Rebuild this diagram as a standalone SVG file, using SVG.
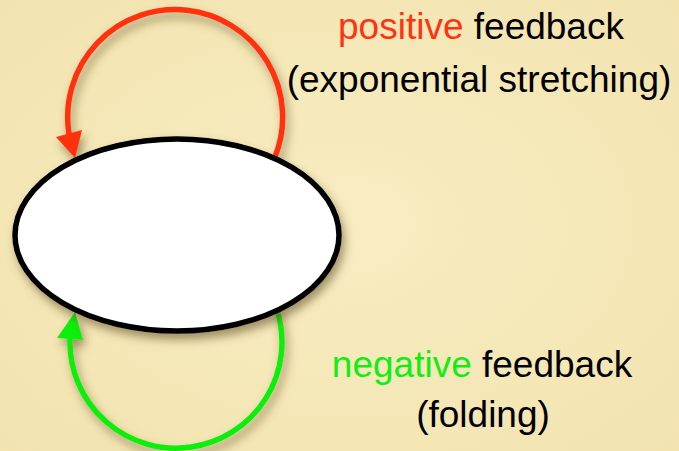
<svg xmlns="http://www.w3.org/2000/svg" width="679" height="451" viewBox="0 0 679 451">
<defs>
<radialGradient id="bg" cx="50%" cy="50%" r="75%">
<stop offset="0" stop-color="#f8edc2"/>
<stop offset="1" stop-color="#f2e3ae"/>
</radialGradient>
<filter id="sh" x="-20%" y="-20%" width="140%" height="150%">
<feDropShadow dx="3" dy="6" stdDeviation="5" flood-color="#5a4a20" flood-opacity="0.55"/>
</filter>
<style>
.t{font-family:"Liberation Sans",Arial,sans-serif;font-size:37px;fill:#000;text-anchor:middle}
.red{fill:#ff3311}
.grn{fill:#11ee11}
.arc{fill:none;stroke-width:5.5;stroke-linecap:round}
</style>
</defs>
<rect width="679" height="451" fill="url(#bg)"/>
<g id="connectors" filter="url(#sh)">
<g id="positive">
<path class="arc" stroke="#ff3311" d="M275,157 A107.5,107.5 0 1 0 69,134"/>
<polygon class="red" points="75,158 56,137 82,130"/>
</g>
<g id="negative">
<path class="arc" stroke="#11ee11" d="M277,310 A106,106 0 1 1 70,340"/>
<polygon class="grn" points="75,312 57,338 83,340"/>
</g>
</g>
<g id="node" filter="url(#sh)">
<ellipse cx="177" cy="235" rx="162" ry="96" fill="#fff" stroke="#000" stroke-width="5.5"/>
</g>
<g id="label-positive">
<text class="t" x="481" y="39"><tspan class="red">positive</tspan> feedback</text>
<text class="t" x="479" y="92">(exponential stretching)</text>
</g>
<g id="label-negative">
<text class="t" x="482" y="377"><tspan class="grn">negative</tspan> feedback</text>
<text class="t" x="483" y="427">(folding)</text>
</g>
</svg>
